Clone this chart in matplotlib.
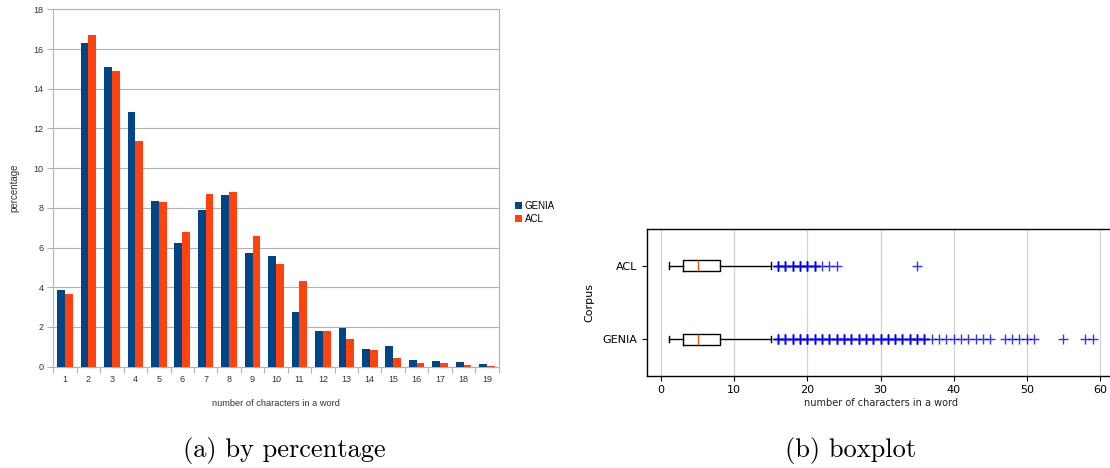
import matplotlib
matplotlib.use("Agg")
import matplotlib.pyplot as plt
from matplotlib.patches import Patch

# ---------------- data ----------------
lengths = list(range(1, 20))
genia_pct = [3.84, 16.30, 15.11, 12.81, 8.37, 6.21, 7.91, 8.64, 5.71, 5.58,
             2.78, 1.79, 1.97, 0.89, 1.03, 0.35, 0.29, 0.22, 0.13]
acl_pct = [3.64, 16.70, 14.87, 11.35, 8.32, 6.79, 8.71, 8.79, 6.59, 5.17,
           4.31, 1.79, 1.40, 0.86, 0.42, 0.19, 0.19, 0.08, 0.03]
y_ticks = [0, 2, 4, 6, 8, 10, 12, 14, 16, 18]

corpora = ["GENIA", "ACL"]
box_q1 = [3, 3]
box_med = [5, 5]
box_q3 = [8, 8]
box_whislo = [1, 1]
box_whishi = [15, 15]
genia_out_dense = list(range(16, 37))
genia_out_sparse = list(range(37, 46)) + [47, 48, 49, 50, 51, 55, 58, 59]
acl_out_dense = [16, 17, 18, 19, 20, 21]
acl_out_sparse = [22, 23, 24, 35]
dense_repeat = 4
x_ticks_box = [0, 10, 20, 30, 40, 50, 60]

GENIA_C = "#004586"
ACL_C = "#ff420e"

fig = plt.figure(figsize=(11.10, 4.68), dpi=100)

# ---------------- (a) bar chart ----------------
ax = fig.add_axes([53.3 / 1110, 101.3 / 468, 445.4 / 1110, 357.4 / 468])
w = 0.33
ax.bar([x - w / 2 for x in lengths], genia_pct, width=w, color=GENIA_C,
       label="GENIA", zorder=3, linewidth=0)
ax.bar([x + w / 2 for x in lengths], acl_pct, width=w, color=ACL_C,
       label="ACL", zorder=3, linewidth=0)
ax.set_xlim(0.5, 19.5)
ax.set_ylim(0, 18)
ax.set_yticks(y_ticks)
ax.set_yticklabels([str(v) for v in y_ticks])
ax.set_xticks(lengths)
ax.set_xticklabels([str(v) for v in lengths])
ax.set_xticks([x + 0.5 for x in range(0, 20)], minor=True)
ax.tick_params(axis="x", which="major", length=0, pad=6, labelsize=6.5,
               labelcolor="#333333")
ax.tick_params(axis="x", which="minor", length=4, color="#b3b3b3", width=0.8)
ax.tick_params(axis="y", length=4, color="#b3b3b3", width=0.8, labelsize=6.5,
               pad=3, labelcolor="#333333")
for lab in ax.get_xticklabels() + ax.get_yticklabels():
    lab.set_fontfamily("Liberation Sans")
ax.grid(axis="y", color="#b3b3b3", linewidth=0.8, zorder=0)
for s in ax.spines.values():
    s.set_color("#b3b3b3")
    s.set_linewidth(0.8)
ax.set_xlabel("number of characters in a word", fontsize=6.7,
              family="Liberation Sans", color="#333333", labelpad=11)
ax.set_ylabel("percentage", fontsize=7, family="Liberation Sans",
              color="#333333", labelpad=10)
handles = [Patch(facecolor=GENIA_C, label="GENIA"),
           Patch(facecolor=ACL_C, label="ACL")]
fig.legend(handles=handles, loc="upper left",
           bbox_to_anchor=(508 / 1110, 1 - 194 / 468), frameon=False,
           prop={"family": "Liberation Sans", "size": 7}, handlelength=0.7,
           handleheight=0.7, handletextpad=0.3, labelspacing=0.35,
           borderpad=0.2)

# ---------------- (b) boxplot ----------------
bx = fig.add_axes([647.3 / 1110, 92.3 / 468, 466.5 / 1110, 146.7 / 468])
fliers = [genia_out_dense * dense_repeat + genia_out_sparse,
          acl_out_dense * dense_repeat + acl_out_sparse]
stats = []
for i, name in enumerate(corpora):
    stats.append(dict(label=name, q1=box_q1[i], med=box_med[i], q3=box_q3[i],
                      whislo=box_whislo[i], whishi=box_whishi[i],
                      fliers=fliers[i]))
bx.bxp(stats, positions=[1, 2], vert=False, widths=0.15, capwidths=0.09,
       boxprops=dict(color="black", linewidth=1),
       whiskerprops=dict(color="black", linewidth=1),
       capprops=dict(color="black", linewidth=1),
       medianprops=dict(color="#e8531c", linewidth=1),
       flierprops=dict(marker="+", markeredgecolor="blue", markersize=6.5,
                       markeredgewidth=1.0, alpha=0.8, linestyle="none"))
bx.set_xlim(-1.9, 61.9)
bx.set_ylim(0.5, 2.5)
bx.set_xticks(x_ticks_box)
bx.set_xticklabels([str(v) for v in x_ticks_box])
bx.set_yticks([1, 2])
bx.set_yticklabels(corpora)
bx.tick_params(labelsize=8, length=3.5, width=0.8)
bx.grid(axis="x", color="#d3d3d3", linewidth=0.9)
bx.set_axisbelow(True)
for s in bx.spines.values():
    s.set_linewidth(1)
bx.set_xlabel("number of characters in a word", fontsize=7, color="#222222",
              labelpad=2)
bx.set_ylabel("Corpus", fontsize=8, labelpad=6)

# ---------------- captions ----------------
fig.text(284 / 1110, 1 - 450 / 468, "(a) by percentage", ha="center",
         va="center", fontsize=19, family="cmr10")
fig.text(851 / 1110, 1 - 450 / 468, "(b) boxplot", ha="center",
         va="center", fontsize=19, family="cmr10")

fig.savefig("out.png", dpi=100)
